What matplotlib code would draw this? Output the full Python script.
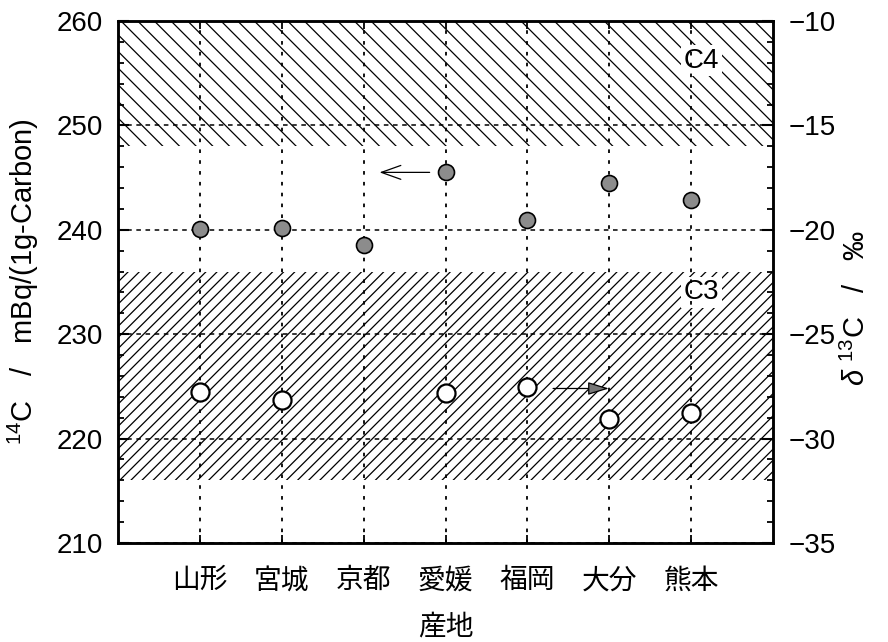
import matplotlib
matplotlib.use('Agg')
import matplotlib.pyplot as plt
from matplotlib.ticker import MultipleLocator, FixedLocator
from matplotlib.patches import Rectangle
from matplotlib.transforms import blended_transform_factory

plt.rcParams['font.family'] = ['Liberation Sans', 'DejaVu Sans']
plt.rcParams['mathtext.fontset'] = 'custom'
plt.rcParams['mathtext.rm'] = 'Liberation Sans'
plt.rcParams['mathtext.it'] = 'Liberation Sans:italic'
plt.rcParams['hatch.linewidth'] = 0.9

# データ
sanchi = ['山形', '宮城', '京都', '愛媛', '福岡', '大分', '熊本']
c14 = [240.1, 240.2, 238.5, 245.5, 240.9, 244.5, 242.9]          # mBq/(1g-Carbon)
d13c_sanchi = ['山形', '宮城', '愛媛', '福岡', '大分', '熊本']       # 京都は欠測
d13c = [-27.75, -28.15, -27.83, -27.54, -29.06, -28.79]             # permil
c4_band = (-16, -10)
c3_band = (-32, -22)

jp = 'Noto Sans CJK JP'

fig = plt.figure(figsize=(8.88, 6.42), dpi=100)
ax = fig.add_axes([0.1329, 0.1542, 0.7376, 0.8131])
ax2 = ax.twinx()

xpos = list(range(1, len(sanchi) + 1))
xpos13 = [sanchi.index(s) + 1 for s in d13c_sanchi]

# C4 / C3 の範囲（右軸の値）
tr = blended_transform_factory(ax.transAxes, ax2.transData)
ax.add_patch(Rectangle((0, c4_band[0]), 1, c4_band[1] - c4_band[0], transform=tr,
                       facecolor='white', edgecolor='black', linewidth=0,
                       hatch='\\\\', zorder=0))
ax.add_patch(Rectangle((0, c3_band[0]), 1, c3_band[1] - c3_band[0], transform=tr,
                       facecolor='white', edgecolor='black', linewidth=0,
                       hatch='///', zorder=0))

# グリッド
ax.grid(axis='y', which='major', color='black', linestyle=(0, (3, 3)), linewidth=1.1)
ax.grid(axis='x', which='major', color='black', linestyle=(0, (2, 4)), linewidth=1.3)
ax.set_axisbelow(False)
for gl in ax.get_xgridlines() + ax.get_ygridlines():
    gl.set_zorder(1)

ax.text(7.13, 256.2, 'C4', fontsize=20, ha='center', va='center', zorder=2,
        bbox=dict(facecolor='white', edgecolor='none', pad=2))
ax.text(7.13, 234.0, 'C3', fontsize=20, ha='center', va='center', zorder=2,
        bbox=dict(facecolor='white', edgecolor='none', pad=2))

# 14C（左軸）
ax.plot(xpos, c14, linestyle='none', marker='o', markersize=11.5,
        markerfacecolor='#8c8c8c', markeredgecolor='black', markeredgewidth=1.2, zorder=4)
# δ13C（右軸）
ax.plot(xpos13, d13c, linestyle='none', marker='o', markersize=13,
        markerfacecolor='white', markeredgecolor='black', markeredgewidth=1.6,
        transform=ax2.transData, zorder=4)

# 矢印
ax.annotate('', xy=(3.16, 245.5), xytext=(3.84, 245.5),
            arrowprops=dict(arrowstyle='->, head_length=1.4, head_width=0.5',
                            lw=0.9, color='black'),
            zorder=3)
ax.annotate('', xy=(6.03, -27.6), xytext=(5.28, -27.6), xycoords=ax2.transData,
            textcoords=ax2.transData,
            arrowprops=dict(arrowstyle='-|>, head_length=1.3, head_width=0.4',
                            lw=0.9, edgecolor='black', facecolor='#777777'),
            zorder=3)

ax.set_xlim(0, 8)
ax.set_ylim(210, 260)
ax2.set_ylim(-35, -10)

ax.xaxis.set_major_locator(FixedLocator(xpos))
ax.set_xticklabels(sanchi, fontfamily=jp, fontsize=20)
ax.yaxis.set_major_locator(MultipleLocator(10))
ax.yaxis.set_minor_locator(MultipleLocator(2))
ax2.yaxis.set_major_locator(MultipleLocator(5))
ax2.yaxis.set_minor_locator(MultipleLocator(1))

ax.tick_params(axis='x', which='major', direction='in', top=True, bottom=True,
               length=6, width=1.3, pad=16)
ax.tick_params(axis='y', which='major', direction='in', length=8, width=1.5,
               labelsize=20, pad=11, right=False)
ax.tick_params(axis='y', which='minor', direction='in', length=4.5, width=1.3, right=False)
ax2.tick_params(axis='y', which='major', direction='in', length=8, width=1.5,
                labelsize=20, pad=11)
ax2.tick_params(axis='y', which='minor', direction='in', length=4.5, width=1.3)

for a in (ax, ax2):
    for sp in a.spines.values():
        sp.set_linewidth(1.8)

ax.set_xlabel('産地', fontfamily=jp, fontsize=20, labelpad=12)
ax.set_ylabel('$^{14}$C   /   mBq/(1g-Carbon)', fontsize=21)
ax.yaxis.set_label_coords(-0.118, 0.5)
ax2.set_ylabel('$\\mathit{\\delta}$ $^{13}$C   /   ‰', fontsize=21)
ax2.yaxis.set_label_coords(1.105, 0.45)

fig.savefig('out.png', dpi=100)
